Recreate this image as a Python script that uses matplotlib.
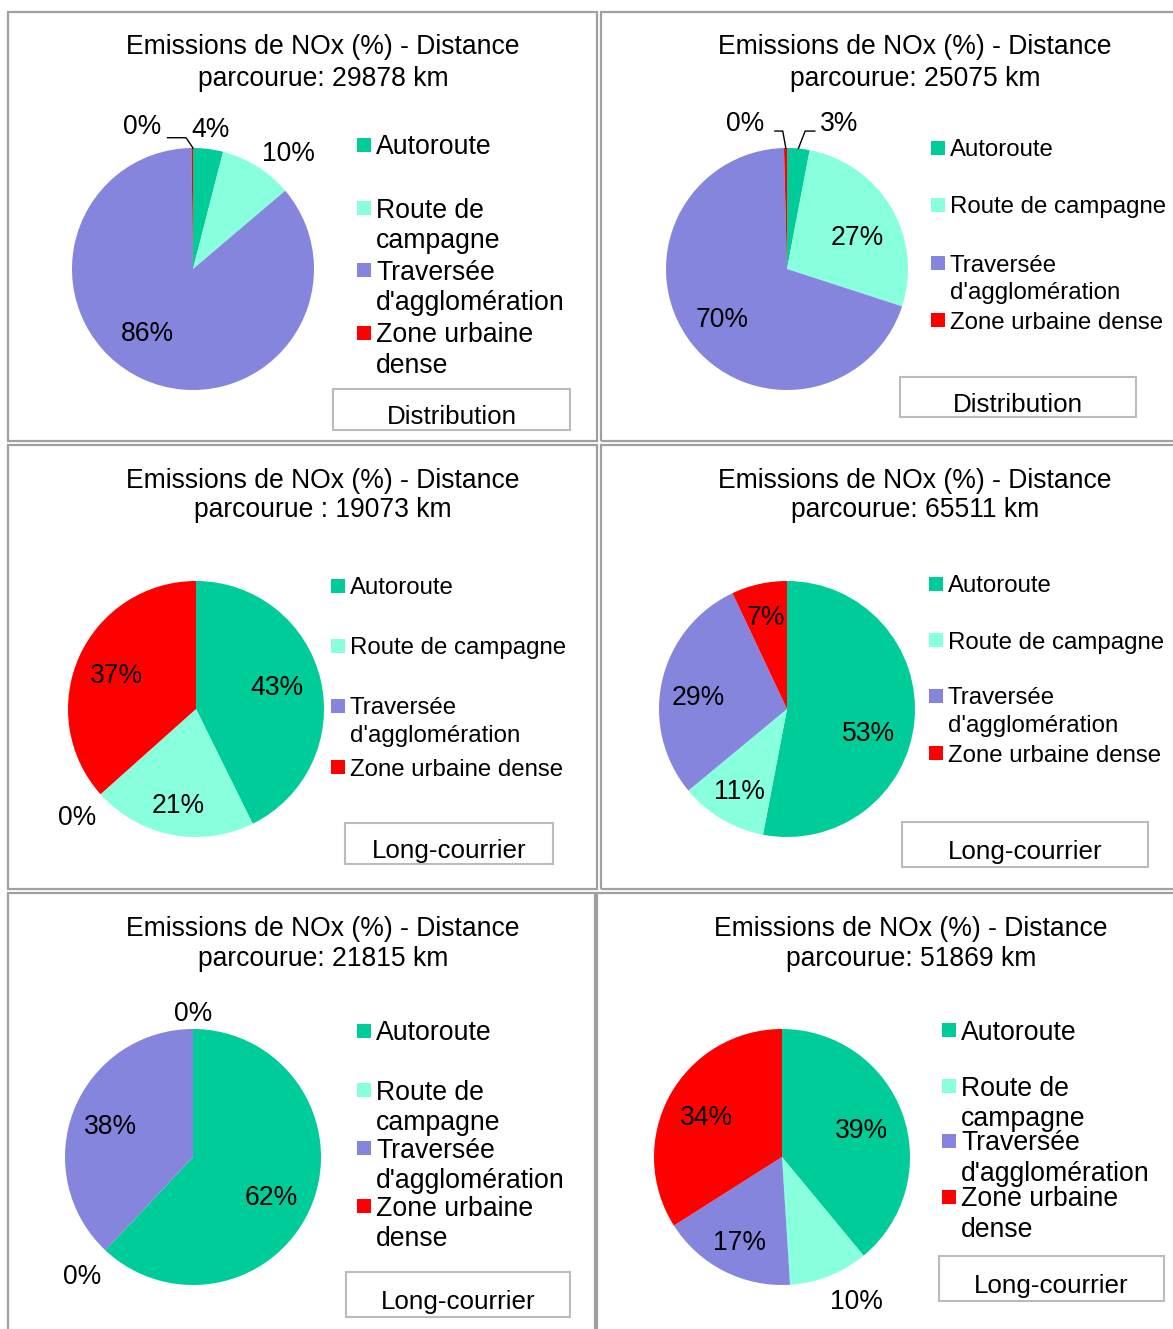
import math
import textwrap
import matplotlib.pyplot as plt
from matplotlib.patches import Rectangle

plt.rcParams["font.family"] = ["Liberation Sans", "DejaVu Sans"]

W, H = 1173, 1329

# ---- data -------------------------------------------------------------
categories = ["Autoroute", "Route de campagne", "Traversée d'agglomération",
              "Zone urbaine dense"]
colors = ["#00CC99", "#88FFDD", "#8585DD", "#FF0000"]

distances_km = [29878, 25075, 19073, 65511, 21815, 51869]
scenarios = ["Distribution", "Distribution", "Long-courrier",
             "Long-courrier", "Long-courrier", "Long-courrier"]
colon = [":", ":", " :", ":", ":", ":"]

# NOx share (%) per road type, order = categories
nox_1 = [4.0, 9.8, 86.0, 0.2]
nox_2 = [3.0, 27.0, 69.6, 0.4]
nox_3 = [42.7, 20.7, 0.0, 36.6]
nox_4 = [53.0, 11.0, 29.0, 7.0]
nox_5 = [62.0, 0.0, 38.0, 0.0]
nox_6 = [39.0, 10.0, 17.0, 34.0]
nox = [nox_1, nox_2, nox_3, nox_4, nox_5, nox_6]

# ---- layout (pixels) --------------------------------------------------
panels = [
    dict(frame=(8, 12, 597, 441), tx=323, ty=(45, 76), pie=(193, 269, 121),
         lab=[(1.18, 0), (1.25, 7), (0.64, 12), (1.27, -19)],
         leg=(357, [145, 208, 270, 333], 26.6, 12), box=(333, 389, 570, 430)),
    dict(frame=(601, 12, 1176, 441), tx=915, ty=(45, 76), pie=(787, 269, 121),
         lab=[(1.29, 14), (0.64, 5), (0.67, 0), (1.27, -15)],
         leg=(931, [148, 205, 263, 320], 24, 18), box=(900, 377, 1136, 417)),
    dict(frame=(8, 445, 597, 889), tx=323, ty=(478, 508), pie=(196, 709, 128),
         lab=[(0.66, -3), (0.75, 0), (1.25, 0), (0.68, 0)],
         leg=(331, [586, 646, 706, 767], 24, 18), box=(345, 823, 553, 864)),
    dict(frame=(601, 445, 1176, 889), tx=915, ty=(478, 508), pie=(787, 709, 128),
         lab=[(0.66, 10), (0.73, 0), (0.70, -4), (0.75, 0)],
         leg=(929, [584, 640, 696, 753], 24, 18), box=(902, 822, 1148, 867)),
    dict(frame=(8, 893, 595, 1332), tx=323, ty=(926, 957), pie=(193, 1157, 128),
         lab=[(0.68, 5), (1.26, 0), (0.69, 0), (1.14, 0)],
         leg=(357, [1031, 1090, 1148, 1206], 26.6, 12), box=(346, 1272, 570, 1317)),
    dict(frame=(597, 893, 1176, 1332), tx=911, ty=(926, 957), pie=(782, 1157, 128),
         lab=[(0.66, 0), (1.26, -6), (0.73, 0), (0.67, 0)],
         leg=(942, [1030, 1086, 1141, 1197], 26.6, 12), box=(939, 1256, 1164, 1301)),
]
# leader lines (panel, slice) -> polyline in pie-radius units
leaders = {
    (0, 3): [(0.0, 1.0), (-0.058, 1.085), (-0.21, 1.085)],
    (1, 3): [(-0.01, 1.0), (-0.035, 1.14), (-0.10, 1.14)],
    (1, 0): [(0.094, 0.996), (0.15, 1.14), (0.23, 1.14)],
}

PT = 0.72  # px -> pt at dpi 100
DY = 2.5   # text baseline nudge (px)


def fx(x):
    return x / W


def fy(y):
    return 1 - y / H


fig = plt.figure(figsize=(W / 100, H / 100), dpi=100)

for i, (p, vals) in enumerate(zip(panels, nox)):
    x0, y0, x1, y1 = p["frame"]
    fig.add_artist(Rectangle((fx(x0), fy(y1)), (x1 - x0) / W, (y1 - y0) / H,
                             fill=False, ec="#A0A0A0", lw=1.6,
                             transform=fig.transFigure))
    # title
    t1 = "Emissions de NOx (%) - Distance"
    t2 = f"parcourue{colon[i]} {distances_km[i]} km"
    for txt, yy in zip((t1, t2), p["ty"]):
        fig.text(fx(p["tx"]), fy(yy + DY), txt, ha="center", va="center",
                 fontsize=26.5 * PT, color="black")

    # pie
    cx, cy, r = p["pie"]
    ax = fig.add_axes([fx(cx - r), fy(cy + r), 2 * r / W, 2 * r / H])
    ax.pie(vals, colors=colors, startangle=90, counterclock=False,
           wedgeprops=dict(linewidth=0))
    ax.set_xlim(-1, 1)
    ax.set_ylim(-1, 1)
    ax.set_aspect("equal")
    ax.axis("off")

    total = sum(vals)
    cum = 0.0
    for j, v in enumerate(vals):
        mid = 360 * (cum + v / 2) / total
        cum += v
        dist, nudge = p["lab"][j]
        a = math.radians(mid + nudge)
        ax.text(dist * math.sin(a), dist * math.cos(a) - DY / r, f"{round(v)}%",
                ha="center", va="center", fontsize=26.5 * PT, clip_on=False)
        if (i, j) in leaders:
            pts = leaders[(i, j)]
            ax.plot([q[0] for q in pts], [q[1] for q in pts], color="black",
                    lw=1.0, clip_on=False)

    # legend
    lx, lys, fpx, wrap = p["leg"]
    line_px = fpx * 1.16
    for k, (cat, col) in enumerate(zip(categories, colors)):
        ms = 14
        fig.add_artist(Rectangle((fx(lx), fy(lys[k] + ms / 2)), ms / W, ms / H,
                                 fc=col, ec="none", transform=fig.transFigure))
        lines = textwrap.wrap(cat, wrap, break_long_words=False,
                              break_on_hyphens=False)
        for n, line in enumerate(lines):
            fig.text(fx(lx + ms + 5), fy(lys[k] + n * line_px + DY), line,
                     ha="left", va="center", fontsize=fpx * PT)

    # scenario box
    bx0, by0, bx1, by1 = p["box"]
    fig.add_artist(Rectangle((fx(bx0), fy(by1)), (bx1 - bx0) / W, (by1 - by0) / H,
                             fill=False, ec="#BBBBBB", lw=1.5,
                             transform=fig.transFigure))
    fig.text(fx((bx0 + bx1) / 2), fy((by0 + by1) / 2 + 5 + DY), scenarios[i],
             ha="center", va="center", fontsize=26 * PT)

fig.savefig("out.png", dpi=100, facecolor="white")
